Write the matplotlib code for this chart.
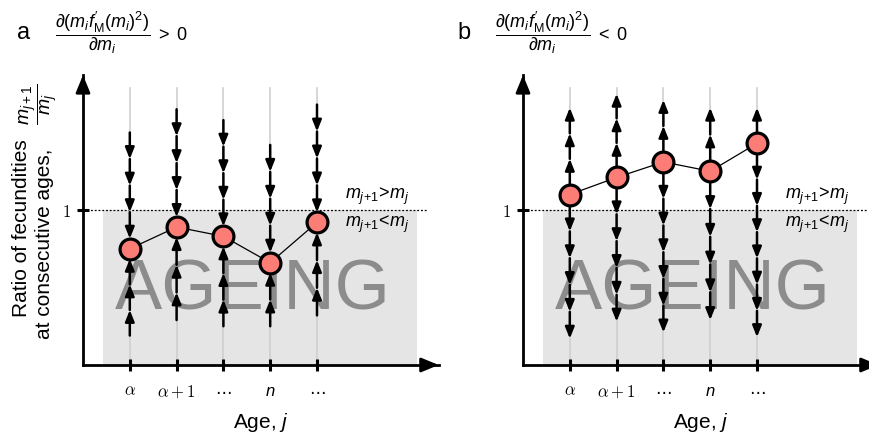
import numpy as np
import matplotlib
matplotlib.use("Agg")
import matplotlib.pyplot as plt
from matplotlib.patches import Rectangle

plt.rcParams['font.family'] = ['Liberation Sans', 'DejaVu Sans']
plt.rcParams['mathtext.fontset'] = 'custom'
plt.rcParams['mathtext.rm'] = 'Liberation Sans'
plt.rcParams['mathtext.it'] = 'Liberation Sans:italic'
plt.rcParams['mathtext.bf'] = 'Liberation Sans:bold'

# ---------------- data ----------------
ages = [1, 2, 3, 4, 5]
age_labels = [r'$\alpha$', r'$\alpha+1$', '\u22ef', r'$n$', '\u22ef']
ratio_a = [0.75, 0.89, 0.83, 0.66, 0.92]
ratio_b = [1.10, 1.21, 1.31, 1.25, 1.43]
# start of converging arrow chains in panel a (top and bottom)
a_top = [1.50, 1.65, 1.58, 1.42, 1.68]
a_bottom = [0.19, 0.29, 0.25, 0.25, 0.32]
# ends of diverging arrow chains in panel b (top and bottom)
b_top = [1.66, 1.75, 1.71, 1.66, 1.66]
b_bottom = [0.17, 0.28, 0.21, 0.29, 0.18]
threshold = 1.0

W, H = 869, 436
fig = plt.figure(figsize=(W / 100, H / 100), dpi=100)

XMAX, YMAX = 7.6, 1.87
PX_X, PX_Y = 46.8, 155.0
R = 0.065  # marker radius in data units (y)

def chain(ax, x, y0, y1, seg=0.175):
    n = max(1, int(round(abs(y1 - y0) / seg)))
    ys = np.linspace(y0, y1, n + 1)
    for a, b in zip(ys[:-1], ys[1:]):
        ax.annotate('', xy=(x, b), xytext=(x, a),
                    arrowprops=dict(arrowstyle='-|>,head_length=0.75,head_width=0.3',
                                    lw=1.8, color='black', mutation_scale=9,
                                    shrinkA=0, shrinkB=0),
                    zorder=4, annotation_clip=False)

def panel(left_px, ratios, mode, tops, bottoms, letter, rel):
    ax = fig.add_axes([left_px / W, (H - 365) / H, XMAX * PX_X / W, YMAX * PX_Y / H])
    ax.set_xlim(0, XMAX)
    ax.set_ylim(0, YMAX)
    for s in ['top', 'right']:
        ax.spines[s].set_visible(False)
    for s in ['left', 'bottom']:
        ax.spines[s].set_linewidth(2)
    ax.annotate('', xy=(0, YMAX), xytext=(0, YMAX - 0.1),
                arrowprops=dict(arrowstyle='-|>,head_length=0.8,head_width=0.33',
                                lw=2, color='black', mutation_scale=13, shrinkA=0, shrinkB=0),
                annotation_clip=False)
    ax.annotate('', xy=(XMAX, 0), xytext=(XMAX - 0.3, 0),
                arrowprops=dict(arrowstyle='-|>,head_length=0.8,head_width=0.33',
                                lw=2, color='black', mutation_scale=13, shrinkA=0, shrinkB=0),
                annotation_clip=False)
    ax.add_patch(Rectangle((0.43, 0), 7.14 - 0.43, threshold, color='#e5e5e5', lw=0, zorder=0))
    ax.plot([0, 7.37], [threshold, threshold], ls=(0, (1.5, 1.5)), color='black', lw=0.9, zorder=1)
    ax.text(3.63, 0.475, 'AGEING', fontsize=51, color='#8c8c8c', ha='center', va='center', zorder=2)
    for x in ages:
        ax.plot([x, x], [0, 1.79], color='#cfcfcf', lw=1.2, zorder=1)
    for x, r, t, b in zip(ages, ratios, tops, bottoms):
        if mode == 'converge':
            chain(ax, x, t, r + R)
            chain(ax, x, b, r - R)
        else:
            chain(ax, x, r + R, t)
            chain(ax, x, r - R, b)
    ax.plot(ages, ratios, color='black', lw=0.9, zorder=5, marker='o', markersize=15,
            markerfacecolor='#fb7d75', markeredgecolor='black', markeredgewidth=2.3)
    ax.text(6.3, threshold + 0.09, r'$m_{j\!+\!1}\!>\!m_j$', fontsize=13, ha='center', va='center')
    ax.text(6.3, threshold - 0.09, r'$m_{j\!+\!1}\!<\!m_j$', fontsize=13, ha='center', va='center')
    ax.set_xticks(ages)
    ax.set_xticklabels(age_labels)
    for i, lab in enumerate(ax.get_xticklabels()):
        lab.set_fontsize(12)
        lab.set_math_fontfamily('cm')
        if age_labels[i] == '\u22ef':
            lab.set_family('DejaVu Sans')
    ax.get_xticklabels()[3].set_math_fontfamily('custom')
    ax.set_yticks([threshold])
    ax.set_yticklabels([r'$1$'])
    for lab in ax.get_yticklabels():
        lab.set_fontsize(12)
        lab.set_math_fontfamily('cm')
    ax.tick_params(axis='both', direction='inout', length=9, width=2.2, pad=9)
    ax.tick_params(axis='y', pad=4)
    ax.set_xlabel(r'Age, $j$', fontsize=15, labelpad=7)
    ax.patch.set_alpha(0)
    fig.text((left_px - 66) / W, 1 - 33 / H, letter, fontsize=17, va='center', ha='left')
    fig.text((left_px - 28) / W, 1 - 33 / H,
             r"$\dfrac{\partial(m_i f^{\prime}_{\mathrm{M}}(m_i)^2)}{\partial m_i}$" + rel + r"$0$",
             fontsize=13, va='center', ha='left')
    return ax

panel(83, ratio_a, 'converge', a_top, a_bottom, 'a', r' $>$ ')
panel(523, ratio_b, 'diverge', b_top, b_bottom, 'b', r' $<$ ')

fig.text(22 / W, 1 - 228 / H, 'Ratio of fecundities', rotation=90, fontsize=15,
         ha='center', va='center')
fig.text(45 / W, 1 - 244 / H, 'at consecutive ages,', rotation=90, fontsize=15,
         ha='center', va='center')
fig.text(39 / W, 1 - 104 / H, r'$\dfrac{m_{j+1}}{m_j}$', rotation=90, fontsize=14,
         ha='center', va='center')

fig.savefig('out.png', dpi=100)
